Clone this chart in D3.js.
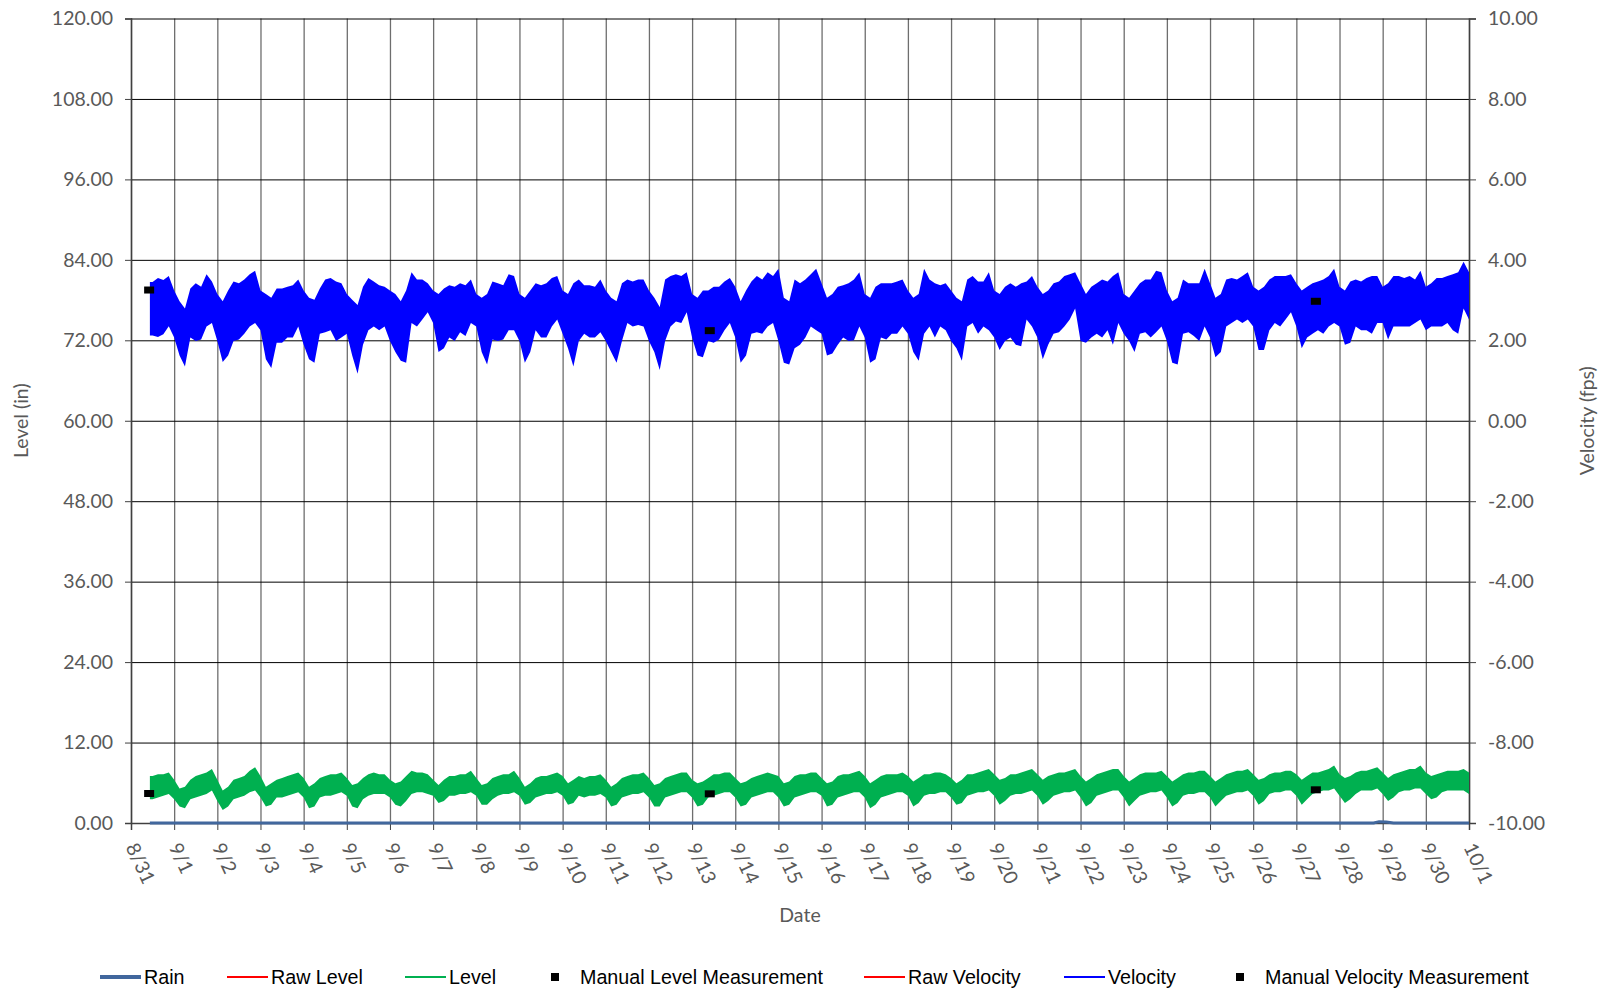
<!DOCTYPE html>
<html lang="en">
<head>
<meta charset="utf-8" />
<title>Level / Velocity</title>
<script src="https://cdn.jsdelivr.net/npm/d3@7"></script>
<style>
  body { margin: 0; background: #fff; }
  svg { display: block; }
  .tick-lbl { font-family: Lato, "Open Sans", sans-serif; font-size: 19.5px; fill: #595959; }
  .ax-title { font-family: Lato, "Open Sans", sans-serif; font-size: 19.5px; fill: #595959; }
  .leg { font-family: "Liberation Sans", Arial, sans-serif; font-size: 19.7px; fill: #000; }
</style>
</head>
<body>
<svg id="chart" width="1606" height="990"></svg>
<script>
// ---- data (3-hourly hi / lo envelope) ----
// first sample 8/31 10:30, then 8/31 12:00 every 3 h up to 10/1 00:00
const velHi = [3.45, 3.45, 3.55, 3.5, 3.6,
  3.24, 2.97, 2.79, 3.29, 3.42, 3.33, 3.64, 3.46,
  3.15, 2.97, 3.24, 3.46, 3.42, 3.51, 3.64, 3.73,
  3.24, 3.15, 3.06, 3.29, 3.29, 3.33, 3.37, 3.51,
  3.24, 3.06, 3.01, 3.29, 3.51, 3.55, 3.46, 3.42,
  3.15, 3.01, 2.88, 3.33, 3.55, 3.46, 3.37, 3.33,
  3.24, 3.15, 2.97, 3.24, 3.69, 3.51, 3.51, 3.42,
  3.24, 3.15, 3.29, 3.37, 3.33, 3.42, 3.37, 3.51,
  3.15, 3.06, 3.15, 3.46, 3.42, 3.37, 3.64, 3.60,
  3.15, 3.06, 3.24, 3.42, 3.37, 3.42, 3.55, 3.60,
  3.24, 3.15, 3.42, 3.51, 3.37, 3.37, 3.33, 3.51,
  3.24, 3.06, 2.97, 3.42, 3.51, 3.46, 3.51, 3.51,
  3.24, 3.06, 2.83, 3.51, 3.60, 3.64, 3.60, 3.69,
  3.15, 3.06, 3.24, 3.24, 3.33, 3.33, 3.46, 3.55,
  3.33, 2.97, 3.24, 3.46, 3.60, 3.51, 3.69, 3.60,
  3.78, 3.06, 2.97, 3.51, 3.42, 3.51, 3.64, 3.78,
  3.42, 3.06, 3.15, 3.33, 3.37, 3.42, 3.51, 3.69,
  3.15, 3.06, 3.33, 3.42, 3.42, 3.42, 3.46, 3.51,
  3.24, 3.06, 3.15, 3.78, 3.51, 3.42, 3.37, 3.42,
  3.24, 3.06, 2.97, 3.51, 3.60, 3.46, 3.46, 3.69,
  3.24, 3.15, 3.33, 3.42, 3.33, 3.42, 3.46, 3.60,
  3.33, 3.15, 3.24, 3.42, 3.46, 3.60, 3.64, 3.69,
  3.42, 3.15, 3.33, 3.42, 3.51, 3.46, 3.60, 3.69,
  3.15, 3.06, 3.24, 3.42, 3.51, 3.51, 3.73, 3.69,
  3.24, 2.97, 3.06, 3.51, 3.42, 3.42, 3.42, 3.78,
  3.42, 3.06, 3.15, 3.51, 3.55, 3.51, 3.60, 3.69,
  3.33, 3.24, 3.33, 3.51, 3.60, 3.60, 3.60, 3.64,
  3.42, 3.24, 3.33, 3.42, 3.46, 3.51, 3.60, 3.78,
  3.33, 3.24, 3.46, 3.51, 3.46, 3.55, 3.60, 3.60,
  3.33, 3.42, 3.60, 3.60, 3.55, 3.60, 3.51, 3.73,
  3.33, 3.42, 3.55, 3.55, 3.60, 3.64, 3.69, 3.95,
  3.69];
const velLo = [2.12, 2.12, 2.08, 2.15, 2.35,
  2.07, 1.62, 1.35, 2.07, 1.98, 2.02, 2.34, 2.43,
  1.98, 1.46, 1.62, 1.98, 2.02, 2.16, 2.34, 2.43,
  2.25, 1.53, 1.31, 1.94, 1.94, 2.07, 2.07, 2.34,
  1.89, 1.53, 1.44, 2.16, 2.20, 2.25, 1.98, 2.07,
  2.16, 1.62, 1.17, 1.89, 2.25, 2.34, 2.25, 2.34,
  1.98, 1.71, 1.49, 1.44, 2.43, 2.34, 2.52, 2.70,
  2.43, 1.71, 1.80, 2.07, 1.98, 2.20, 2.11, 2.43,
  2.34, 1.71, 1.40, 2.02, 1.98, 2.02, 2.25, 2.25,
  1.98, 1.44, 1.71, 2.25, 2.07, 2.07, 2.34, 2.52,
  2.16, 1.80, 1.35, 1.98, 2.16, 2.07, 2.07, 2.20,
  1.98, 1.71, 1.44, 1.98, 2.43, 2.34, 2.38, 2.34,
  1.98, 1.71, 1.26, 1.98, 2.34, 2.47, 2.43, 2.70,
  2.07, 1.62, 1.58, 1.98, 1.94, 2.02, 2.25, 2.43,
  2.07, 1.44, 1.62, 2.16, 2.20, 2.16, 2.34, 2.43,
  1.98, 1.44, 1.40, 1.80, 1.89, 2.07, 2.34, 2.25,
  2.16, 1.62, 1.67, 1.89, 2.07, 1.98, 2.00, 2.34,
  2.07, 1.44, 1.53, 2.07, 2.02, 2.16, 2.16, 2.34,
  2.16, 1.71, 1.49, 2.16, 2.34, 2.07, 2.34, 2.25,
  1.98, 1.80, 1.49, 2.34, 2.43, 2.16, 2.34, 2.25,
  2.07, 1.76, 1.98, 2.07, 1.89, 1.85, 2.52, 2.34,
  2.07, 1.53, 1.89, 2.16, 2.20, 2.34, 2.52, 2.79,
  1.98, 1.94, 2.07, 2.16, 2.07, 2.25, 1.89, 2.43,
  2.16, 1.98, 1.71, 2.16, 2.20, 2.07, 2.20, 2.34,
  1.98, 1.44, 1.40, 2.16, 2.20, 2.11, 1.98, 2.34,
  2.07, 1.58, 1.71, 2.34, 2.43, 2.52, 2.43, 2.52,
  2.34, 1.76, 1.76, 2.25, 2.43, 2.34, 2.52, 2.70,
  2.34, 1.80, 2.07, 2.16, 2.25, 2.16, 2.34, 2.43,
  2.34, 1.89, 1.94, 2.34, 2.25, 2.25, 2.16, 2.43,
  2.43, 2.02, 2.34, 2.34, 2.34, 2.34, 2.43, 2.52,
  2.25, 2.34, 2.34, 2.34, 2.43, 2.25, 2.16, 2.79,
  2.52];
const levHi = [7.0, 7.0, 7.26, 7.26, 7.53,
  6.46, 5.13, 5.40, 6.46, 7.0, 7.26, 7.53, 8.06,
  6.46, 4.86, 5.40, 6.46, 6.73, 7.0, 7.79, 8.33,
  7.0, 5.40, 5.93, 6.46, 6.73, 7.0, 7.26, 7.53,
  6.73, 5.40, 5.93, 6.73, 7.0, 7.26, 7.26, 7.53,
  6.73, 5.66, 5.93, 6.73, 7.26, 7.53, 7.26, 7.26,
  6.46, 5.93, 6.2, 7.0, 7.79, 7.53, 7.53, 7.26,
  6.46, 5.66, 6.46, 7.0, 7.0, 7.26, 7.26, 7.79,
  6.73, 5.66, 5.93, 6.73, 7.0, 7.26, 7.26, 7.79,
  6.73, 5.40, 5.93, 6.73, 7.0, 7.0, 7.26, 7.53,
  7.0, 5.93, 6.46, 7.0, 6.73, 7.0, 7.0, 7.26,
  6.46, 5.40, 5.93, 6.73, 7.0, 7.26, 7.26, 7.53,
  6.73, 5.66, 5.93, 6.73, 7.0, 7.26, 7.53, 7.53,
  6.46, 5.93, 6.2, 6.73, 7.26, 7.26, 7.53, 7.53,
  6.73, 5.93, 6.2, 6.73, 7.0, 7.26, 7.53, 7.26,
  7.0, 5.93, 6.2, 7.0, 7.26, 7.26, 7.53, 7.53,
  6.73, 5.93, 6.2, 7.0, 7.26, 7.26, 7.53, 7.79,
  7.0, 5.93, 6.46, 7.0, 7.26, 7.26, 7.26, 7.53,
  7.0, 6.2, 6.73, 7.26, 7.26, 7.53, 7.53, 7.26,
  6.73, 5.93, 6.46, 7.26, 7.26, 7.53, 7.79, 8.06,
  7.26, 6.46, 6.73, 7.26, 7.26, 7.53, 7.79, 8.06,
  7.26, 6.46, 7.0, 7.26, 7.53, 7.53, 7.79, 8.06,
  7.0, 6.2, 6.73, 7.26, 7.53, 7.79, 8.06, 8.06,
  7.0, 6.2, 6.73, 7.26, 7.53, 7.53, 7.53, 7.79,
  7.0, 6.2, 6.73, 7.26, 7.53, 7.53, 7.79, 7.79,
  7.0, 6.2, 6.73, 7.26, 7.53, 7.79, 7.79, 8.06,
  7.26, 6.46, 6.73, 7.26, 7.53, 7.53, 7.79, 7.79,
  7.26, 6.46, 7.0, 7.53, 7.53, 7.79, 8.06, 8.59,
  7.26, 6.73, 7.0, 7.53, 7.79, 7.79, 8.06, 8.33,
  7.53, 6.73, 7.26, 7.53, 7.79, 8.06, 8.06, 8.59,
  7.53, 7.0, 7.26, 7.53, 7.79, 7.79, 7.79, 8.06,
  7.53];
const levLo = [3.53, 3.53, 3.80, 4.07, 4.33,
  3.53, 2.47, 2.20, 3.53, 3.80, 4.07, 4.33, 4.86,
  3.27, 1.94, 2.47, 3.53, 3.80, 4.07, 4.60, 4.86,
  3.80, 2.47, 2.73, 3.80, 3.80, 4.07, 4.33, 4.60,
  3.80, 2.20, 2.47, 3.80, 4.07, 4.07, 4.33, 4.60,
  4.07, 2.47, 2.20, 3.53, 4.07, 4.33, 4.33, 4.33,
  3.80, 2.73, 2.47, 3.27, 4.33, 4.60, 4.60, 4.33,
  4.07, 3.00, 3.27, 4.07, 4.07, 4.33, 4.33, 4.60,
  4.07, 2.73, 2.73, 3.53, 4.07, 4.33, 4.33, 4.60,
  4.07, 2.73, 3.00, 3.80, 4.07, 4.33, 4.33, 4.60,
  4.07, 2.73, 3.00, 4.07, 3.80, 4.07, 4.07, 4.33,
  3.80, 2.47, 2.73, 3.80, 4.07, 4.33, 4.33, 4.60,
  3.80, 2.47, 2.47, 3.80, 4.07, 4.33, 4.60, 4.60,
  3.80, 2.47, 2.73, 3.80, 4.07, 4.33, 4.60, 4.60,
  3.80, 2.47, 2.73, 3.80, 4.07, 4.33, 4.60, 4.60,
  3.80, 2.47, 2.73, 3.80, 4.07, 4.33, 4.60, 4.60,
  4.07, 2.47, 2.73, 3.80, 4.07, 4.33, 4.60, 4.60,
  3.80, 2.20, 2.73, 3.80, 4.07, 4.33, 4.60, 4.60,
  4.07, 2.47, 3.00, 4.07, 4.33, 4.33, 4.60, 4.60,
  3.80, 2.73, 3.00, 4.07, 4.33, 4.60, 4.60, 4.86,
  4.07, 2.73, 3.27, 4.07, 4.33, 4.33, 4.60, 4.86,
  4.07, 2.73, 3.27, 4.07, 4.33, 4.60, 4.60, 4.86,
  3.80, 2.47, 3.00, 4.07, 4.33, 4.60, 4.86, 4.86,
  3.80, 2.47, 3.27, 4.07, 4.33, 4.60, 4.60, 4.86,
  3.80, 2.47, 3.00, 4.07, 4.33, 4.33, 4.60, 4.60,
  3.80, 2.47, 3.27, 4.07, 4.33, 4.60, 4.60, 4.86,
  4.07, 2.73, 3.27, 4.33, 4.60, 4.60, 4.86, 4.86,
  4.07, 2.73, 3.53, 4.33, 4.60, 4.86, 4.86, 5.13,
  4.07, 3.00, 3.53, 4.33, 4.86, 4.86, 4.86, 5.13,
  4.33, 3.27, 3.80, 4.60, 4.86, 4.86, 5.13, 5.13,
  4.33, 3.53, 3.80, 4.60, 4.86, 4.86, 4.86, 4.86,
  4.33];

const rainTimes = ['2020-08-31 10:30', '2020-09-28 19:00', '2020-09-28 22:00', '2020-09-29 02:00', '2020-09-29 06:00', '2020-10-01 00:00'];
const rainVals  = [0, 0, 0.2, 0.15, 0, 0];

const manualTimes    = ['2020-08-31 10:05', '2020-09-13 09:50', '2020-09-27 10:50'];
const manualLevel    = [4.4, 4.35, 4.95];
const manualVelocity = [3.25, 2.24, 2.97];

const levelTicks = d3.range(0, 121, 12);
const velTicks   = d3.range(-10, 10.1, 2);

const legendItems = [
  { name: 'Rain', kind: 'line', color: '#41679d', w: 4, x: 100 },
  { name: 'Raw Level', kind: 'line', color: '#ff0000', w: 2, x: 227 },
  { name: 'Level', kind: 'line', color: '#00b050', w: 2, x: 405 },
  { name: 'Manual Level Measurement', kind: 'mark', x: 555 },
  { name: 'Raw Velocity', kind: 'line', color: '#ff0000', w: 2, x: 864 },
  { name: 'Velocity', kind: 'line', color: '#0000ff', w: 2, x: 1064 },
  { name: 'Manual Velocity Measurement', kind: 'mark', x: 1240 }
];

// ---- layout ----
const L = 131, R = 1469, T = 18.5, B = 823;
const parse = d3.timeParse('%Y-%m-%d %H:%M');
const t0 = parse('2020-08-31 10:30'), t1 = parse('2020-08-31 12:00');
const times = velHi.map((_, i) => i === 0 ? t0 : d3.timeHour.offset(t1, 3 * (i - 1)));

const x = d3.scaleTime().domain([new Date(2020, 7, 31), new Date(2020, 9, 1)]).range([L, R]);
const yL = d3.scaleLinear().domain([0, 120]).range([B, T]);
const yV = d3.scaleLinear().domain([-10, 10]).range([B, T]);
const fmt2 = d => d.toFixed(2);   // plain hyphen for negatives, like the original

const svg = d3.select('#chart');

// gridlines
svg.append('g').attr('transform', `translate(0,${B})`)
  .call(d3.axisBottom(x).ticks(d3.timeDay.every(1)).tickSize(-(B - T)).tickFormat(''))
  .call(g => g.select('.domain').remove())
  .call(g => g.selectAll('line').attr('stroke', '#6e6e6e').attr('stroke-width', 1.3));
svg.append('g').attr('transform', `translate(${L},0)`)
  .call(d3.axisLeft(yL).tickValues(levelTicks).tickSize(-(R - L)).tickFormat(''))
  .call(g => g.select('.domain').remove())
  .call(g => g.selectAll('line').attr('stroke', '#000').attr('stroke-width', 1));

// axes
const yAxisL = svg.append('g').attr('transform', `translate(${L},0)`)
  .call(d3.axisLeft(yL).tickValues(levelTicks).tickSize(6).tickPadding(12).tickFormat(fmt2));
const yAxisR = svg.append('g').attr('transform', `translate(${R},0)`)
  .call(d3.axisRight(yV).tickValues(velTicks).tickSize(7).tickPadding(12).tickFormat(fmt2));
const xAxis = svg.append('g').attr('transform', `translate(0,${B})`)
  .call(d3.axisBottom(x).ticks(d3.timeDay.every(1)).tickSize(7).tickFormat(d3.timeFormat('%-m/%-d')));

[yAxisL, yAxisR, xAxis].forEach(a => {
  a.select('.domain').attr('stroke', '#404040').attr('stroke-width', 1.5);
  a.selectAll('.tick line').attr('stroke', '#404040');
  a.selectAll('text').attr('class', 'tick-lbl').attr('font-size', null).attr('font-family', null).attr('fill', null);
});
xAxis.selectAll('text')
  .attr('y', 0).attr('dy', '0.35em')
  .attr('text-anchor', 'start')
  .attr('transform', 'translate(0,21) rotate(65)');

// axis titles
svg.append('text').attr('class', 'ax-title').attr('text-anchor', 'middle')
  .attr('transform', `translate(21,${(T + B) / 2}) rotate(-90)`).attr('dy', '0.35em').text('Level (in)');
svg.append('text').attr('class', 'ax-title').attr('text-anchor', 'middle')
  .attr('transform', `translate(1587,${(T + B) / 2}) rotate(-90)`).attr('dy', '0.35em').text('Velocity (fps)');
svg.append('text').attr('class', 'ax-title').attr('text-anchor', 'middle')
  .attr('x', (L + R) / 2).attr('y', 915).attr('dy', '0.35em').text('Date');

// series
const band = (hi, lo, y) => d3.area()
  .x((d, i) => x(times[i])).y0((d, i) => y(lo[i])).y1((d, i) => y(hi[i]));

svg.append('path').datum(levHi).attr('fill', '#00b050')
  .attr('d', band(levHi, levLo, yL));
svg.append('path').datum(velHi).attr('fill', '#0000ff')
  .attr('d', band(velHi, velLo, yV));

svg.append('path').datum(rainVals).attr('fill', 'none').attr('stroke', '#41679d').attr('stroke-width', 3)
  .attr('d', d3.line().x((d, i) => x(parse(rainTimes[i]))).y(d => yL(d)));

// manual measurements
const mark = (vals, y) => svg.append('g').selectAll('rect').data(vals).join('rect')
  .attr('x', (d, i) => x(parse(manualTimes[i])) - 5).attr('y', d => y(d) - 3.5)
  .attr('width', 10).attr('height', 7).attr('fill', '#000');
mark(manualLevel, yL);
mark(manualVelocity, yV);

// legend
const leg = svg.append('g').attr('transform', 'translate(0,977)');
legendItems.forEach(d => {
  if (d.kind === 'line') {
    leg.append('line').attr('x1', d.x).attr('x2', d.x + 41).attr('y1', 0).attr('y2', 0)
      .attr('stroke', d.color).attr('stroke-width', d.w);
    leg.append('text').attr('class', 'leg').attr('x', d.x + 44).attr('dy', '0.35em').text(d.name);
  } else {
    leg.append('rect').attr('x', d.x - 4).attr('y', -4).attr('width', 8).attr('height', 8).attr('fill', '#000');
    leg.append('text').attr('class', 'leg').attr('x', d.x + 25).attr('dy', '0.35em').text(d.name);
  }
});
</script>
</body>
</html>
